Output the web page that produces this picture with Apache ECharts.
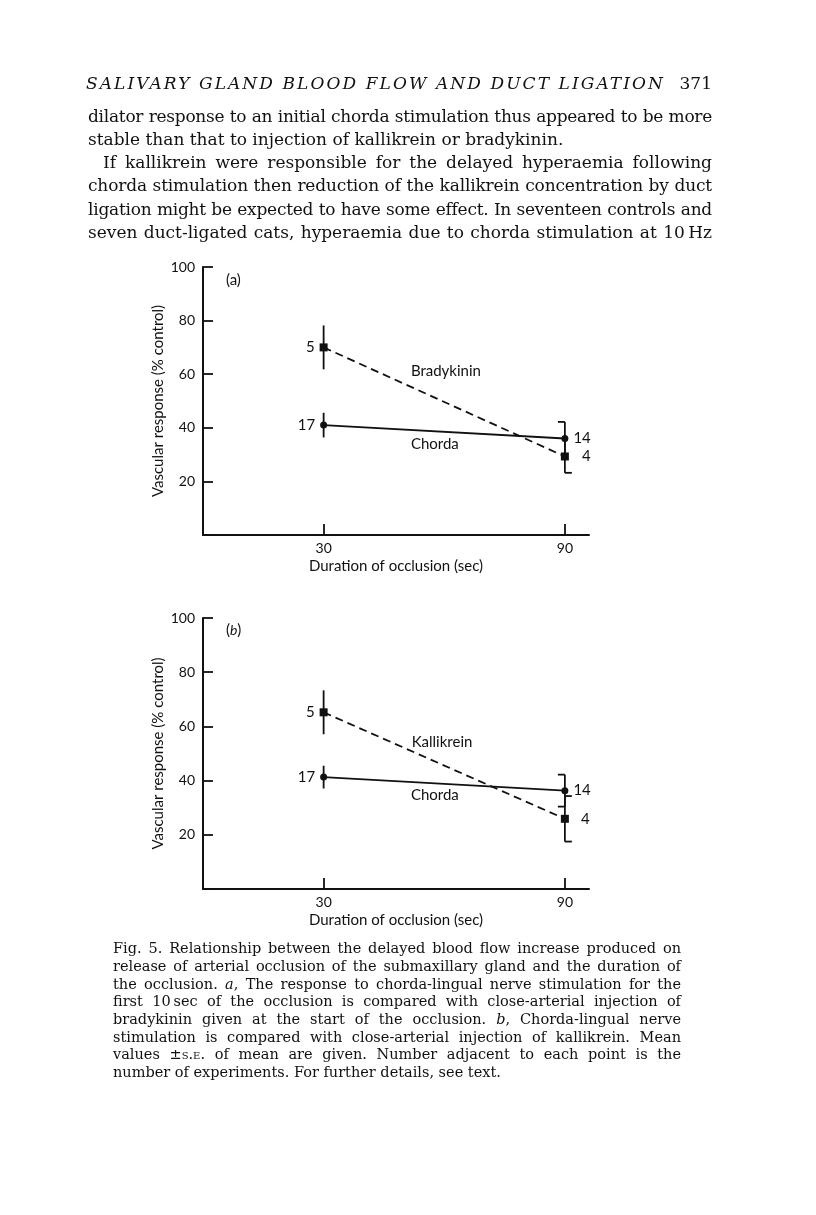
<!DOCTYPE html>
<html>
<head>
<meta charset="utf-8">
<script src="https://cdn.jsdelivr.net/npm/echarts@6/dist/echarts.min.js"></script>
<style>
html, body { margin: 0; padding: 0; background: #fff; }
#page { position: relative; width: 816px; height: 1215px; overflow: hidden; background: #fff; }
#chart { position: absolute; left: 0; top: 0; width: 816px; height: 1215px; }
.ln { position: absolute; white-space: nowrap; color: #111; font-family: 'DejaVu Serif', serif; z-index: 2; }
.body { font-size: 17px; line-height: 20px; }
.cap { font-size: 14.5px; line-height: 17px; }
.just { text-align: justify; text-align-last: justify; }
.sc { font-variant: small-caps; }
</style>
</head>
<body>
<div id="page">
  <div id="chart"></div>

  <!-- running head -->
  <div class="ln body" data-spread="1" style="left:86px;top:73px;width:577px;font-style:italic;">SALIVARY GLAND BLOOD FLOW AND DUCT LIGATION</div>
  <div class="ln body" style="left:668px;top:73px;width:44px;text-align:right;">371</div>

  <!-- text above the figure -->
  <div class="ln body just" style="left:88px;top:105.5px;width:624px;">dilator response to an initial chorda stimulation thus appeared to be more</div>
  <div class="ln body" style="left:88px;top:128.5px;width:624px;">stable than that to injection of kallikrein or bradykinin.</div>
  <div class="ln body just" style="left:103px;top:152px;width:609px;">If kallikrein were responsible for the delayed hyperaemia following</div>
  <div class="ln body just" style="left:88px;top:175px;width:624px;">chorda stimulation then reduction of the kallikrein concentration by duct</div>
  <div class="ln body just" style="left:88px;top:198.5px;width:624px;">ligation might be expected to have some effect. In seventeen controls and</div>
  <div class="ln body just" style="left:88px;top:221.5px;width:624px;">seven duct-ligated cats, hyperaemia due to chorda stimulation at 10&#8201;Hz</div>

  <!-- legend -->
  <div class="ln cap just" style="left:113px;top:940px;width:568px;">Fig. 5. Relationship between the delayed blood flow increase produced on</div>
  <div class="ln cap just" style="left:113px;top:958px;width:568px;">release of arterial occlusion of the submaxillary gland and the duration of</div>
  <div class="ln cap just" style="left:113px;top:975.5px;width:568px;">the occlusion. <i>a</i>, The response to chorda-lingual nerve stimulation for the</div>
  <div class="ln cap just" style="left:113px;top:993px;width:568px;">first 10&#8201;sec of the occlusion is compared with close-arterial injection of</div>
  <div class="ln cap just" style="left:113px;top:1011px;width:568px;">bradykinin given at the start of the occlusion. <i>b</i>, Chorda-lingual nerve</div>
  <div class="ln cap just" style="left:113px;top:1028.5px;width:568px;">stimulation is compared with close-arterial injection of kallikrein. Mean</div>
  <div class="ln cap just" style="left:113px;top:1046px;width:568px;">values &#177;<span class="sc">s.e.</span> of mean are given. Number adjacent to each point is the</div>
  <div class="ln cap" style="left:113px;top:1063.5px;width:568px;">number of experiments. For further details, see text.</div>
</div>

<script>
// durée d'occlusion (s) et réponses moyennes (% contrôle)
var durations = [30, 90];
var yTicks = [20, 40, 60, 80, 100];

// panneau (a)
var chordaA = [41, 36];
var chordaSeA = [4.6, 6.2];
var bradykinin = [70, 29.3];
var bradykininSe = [8.2, 6.1];

// panneau (b)
var chordaB = [41.3, 36.3];
var chordaSeB = [4.2, 5.9];
var kallikrein = [65.2, 25.9];
var kallikreinSe = [8.1, 8.4];

// nombre d'expériences
var nChorda = [17, 14];
var nBradykinin = [5, 4];
var nKallikrein = [5, 4];

var INK = '#111';
var LABEL_FONT = 'Lato';

// ajuste les lignes de texte (interlettrage / justification)
function fitLines() {
    var els = document.querySelectorAll('.ln');
    for (var k = 0; k < els.length; k++) {
        var el = els[k];
        var target = el.getBoundingClientRect().width;
        var probe = document.createElement('span');
        probe.innerHTML = el.innerHTML;
        el.innerHTML = '';
        el.appendChild(probe);
        var w = probe.getBoundingClientRect().width;
        var n = probe.textContent.length;
        el.innerHTML = probe.innerHTML;
        if (el.getAttribute('data-spread')) {
            el.style.letterSpacing = ((target - w) / (n - 1)) + 'px';
        } else if (w > target) {
            el.style.letterSpacing = ((target - w) / n - 0.05) + 'px';
        }
    }
}
fitLines();

function axes(grid) {
    return {
        x: {
            gridIndex: grid,
            type: 'value',
            min: 0,
            max: 96,
            axisLine: { lineStyle: { color: INK, width: 2 } },
            axisTick: { show: true, inside: true, length: 11, customValues: durations, lineStyle: { color: INK, width: 1.8 } },
            axisLabel: { customValues: durations, margin: 6, color: INK, fontFamily: LABEL_FONT, fontSize: 14 },
            splitLine: { show: false },
            name: 'Duration of occlusion (sec)',
            nameLocation: 'middle',
            nameGap: 24,
            nameTextStyle: { color: INK, fontFamily: LABEL_FONT, fontSize: 15 }
        },
        y: {
            gridIndex: grid,
            type: 'value',
            min: 0,
            max: 100,
            interval: 20,
            axisLine: { show: true, lineStyle: { color: INK, width: 2 } },
            axisTick: { show: true, inside: true, length: 10, lineStyle: { color: INK, width: 1.8 } },
            axisLabel: {
                margin: 8, color: INK, fontFamily: LABEL_FONT, fontSize: 14,
                formatter: function (v) { return yTicks.indexOf(v) >= 0 ? String(v) : ''; }
            },
            splitLine: { show: false },
            name: 'Vascular response (% control)',
            nameLocation: 'middle',
            nameRotate: 90,
            nameGap: 37,
            nameTextStyle: { color: INK, fontFamily: LABEL_FONT, fontSize: 15 }
        }
    };
}

function lineSeries(grid, means, counts, symbol, size, dashed, gaps) {
    return {
        type: 'line',
        xAxisIndex: grid,
        yAxisIndex: grid,
        data: durations.map(function (x, i) {
            return { value: [x, means[i]], label: { position: i === 0 ? 'left' : 'right', distance: gaps[i] } };
        }),
        symbol: symbol,
        symbolSize: size,
        showAllSymbol: true,
        itemStyle: { color: INK, borderWidth: 0 },
        lineStyle: { color: INK, width: 1.8, type: dashed ? [8, 5] : 'solid' },
        label: {
            show: true,
            color: INK,
            fontFamily: LABEL_FONT,
            fontSize: 15,
            formatter: function (p) { return String(counts[p.dataIndex]); }
        },
        z: 3,
        animation: false
    };
}

// barres d'erreur : caps = [haut, bas], -1 gauche, 1 droite, 0 sans
function errSeries(grid, means, se, caps) {
    return {
        type: 'custom',
        xAxisIndex: grid,
        yAxisIndex: grid,
        data: durations.map(function (x, i) { return [x, means[i] - se[i], means[i] + se[i], i]; }),
        encode: { x: 0, y: [1, 2] },
        renderItem: function (params, api) {
            var x = api.value(0);
            var lo = api.coord([x, api.value(1)]);
            var hi = api.coord([x, api.value(2)]);
            var c = caps[api.value(3)];
            var st = { stroke: INK, lineWidth: 1.8 };
            var kids = [{ type: 'line', shape: { x1: lo[0], y1: lo[1], x2: hi[0], y2: hi[1] }, style: st }];
            if (c[0]) kids.push({ type: 'line', shape: { x1: hi[0], y1: hi[1], x2: hi[0] + c[0] * 7, y2: hi[1] }, style: st });
            if (c[1]) kids.push({ type: 'line', shape: { x1: lo[0], y1: lo[1], x2: lo[0] + c[1] * 7, y2: lo[1] }, style: st });
            return { type: 'group', children: kids };
        },
        z: 2,
        silent: true,
        animation: false
    };
}

var axA = axes(0);
var axB = axes(1);

var chart = echarts.init(document.getElementById('chart'), null, { renderer: 'canvas' });
chart.setOption({
    animation: false,
    backgroundColor: 'transparent',
    grid: [
        { left: 203, top: 267, width: 386, height: 268 },
        { left: 203, top: 618, width: 386, height: 271 }
    ],
    xAxis: [axA.x, axB.x],
    yAxis: [axA.y, axB.y],
    series: [
        errSeries(0, chordaA, chordaSeA, [[0, 0], [-1, 0]]),
        errSeries(0, bradykinin, bradykininSe, [[0, 0], [0, 1]]),
        lineSeries(0, chordaA, nChorda, 'circle', 7, false, [5, 5]),
        lineSeries(0, bradykinin, nBradykinin, 'rect', 8, true, [5, 13]),
        errSeries(1, chordaB, chordaSeB, [[0, 0], [-1, -1]]),
        errSeries(1, kallikrein, kallikreinSe, [[0, 0], [1, 1]]),
        lineSeries(1, chordaB, nChorda, 'circle', 7, false, [5, 5]),
        lineSeries(1, kallikrein, nKallikrein, 'rect', 8, true, [5, 12])
    ]
});

// étiquettes des courbes et des panneaux
function tag(grid, at, text, rich) {
    var p = chart.convertToPixel({ gridIndex: grid }, at);
    return {
        type: 'text',
        x: p[0],
        y: p[1],
        style: {
            text: text,
            fill: INK,
            font: '15px ' + LABEL_FONT,
            align: 'left',
            verticalAlign: 'middle',
            rich: rich
        },
        z: 5
    };
}
var italicB = { i: { fontStyle: 'italic', fontFamily: LABEL_FONT, fontSize: 14, fill: INK } };
chart.setOption({
    graphic: [
        tag(0, [5.7, 95.2], '(a)'),
        tag(0, [51.7, 61.3], 'Bradykinin'),
        tag(0, [51.7, 34], 'Chorda'),
        tag(1, [5.7, 95.5], '({i|b})', italicB),
        tag(1, [51.9, 54.3], 'Kallikrein'),
        tag(1, [51.7, 34.6], 'Chorda')
    ]
});
</script>
</body>
</html>
